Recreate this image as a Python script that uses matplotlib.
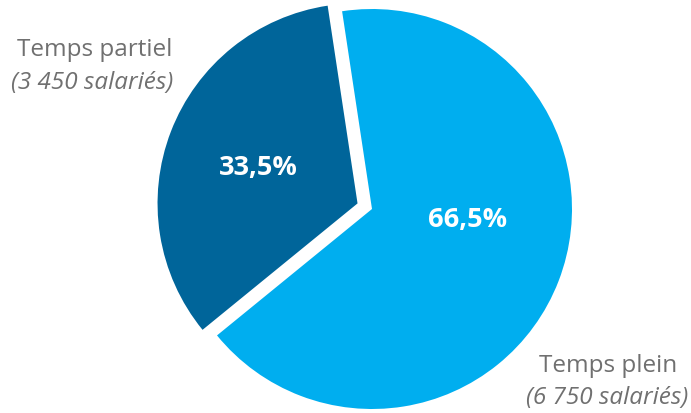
import matplotlib
matplotlib.use("Agg")
import matplotlib.pyplot as plt

categories = ["Temps partiel", "Temps plein"]
counts = ["(3 450 salariés)", "(6 750 salariés)"]
values = [33.5, 66.5]
pct_labels = ["33,5%", "66,5%"]
colors = ["#00659A", "#00AEEF"]

W, H = 691, 414
fig = plt.figure(figsize=(W / 100, H / 100), dpi=100)
ax = fig.add_axes([0, 0, 1, 1])

cx, cy, r = 372, H - 210, 200
ax.pie(values, colors=colors, startangle=98.6, counterclock=True,
       explode=[15.5, 0], center=(cx, cy), radius=r,
       wedgeprops=dict(linewidth=0), frame=True)
ax.set_xlim(0, W)
ax.set_ylim(0, H)
ax.set_aspect("equal")
ax.axis("off")

font = "Open Sans"
ax.text(258, H - 168, pct_labels[0], color="white", fontsize=19.5, fontweight="bold",
        family=font, ha="center", va="center")
ax.text(468, H - 220, pct_labels[1], color="white", fontsize=19.5, fontweight="bold",
        family=font, ha="center", va="center")

gray = "#707070"
fs = 17.5
ax.text(95, H - 50, categories[0], color=gray, fontsize=fs, family=font, ha="center", va="center")
ax.text(92, H - 83, counts[0], color=gray, fontsize=fs, family=font, style="italic", ha="center", va="center")
ax.text(608, H - 366, categories[1], color=gray, fontsize=fs, family=font, ha="center", va="center")
ax.text(607, H - 398, counts[1], color=gray, fontsize=fs, family=font, style="italic", ha="center", va="center")

fig.savefig("out.png", dpi=100)
